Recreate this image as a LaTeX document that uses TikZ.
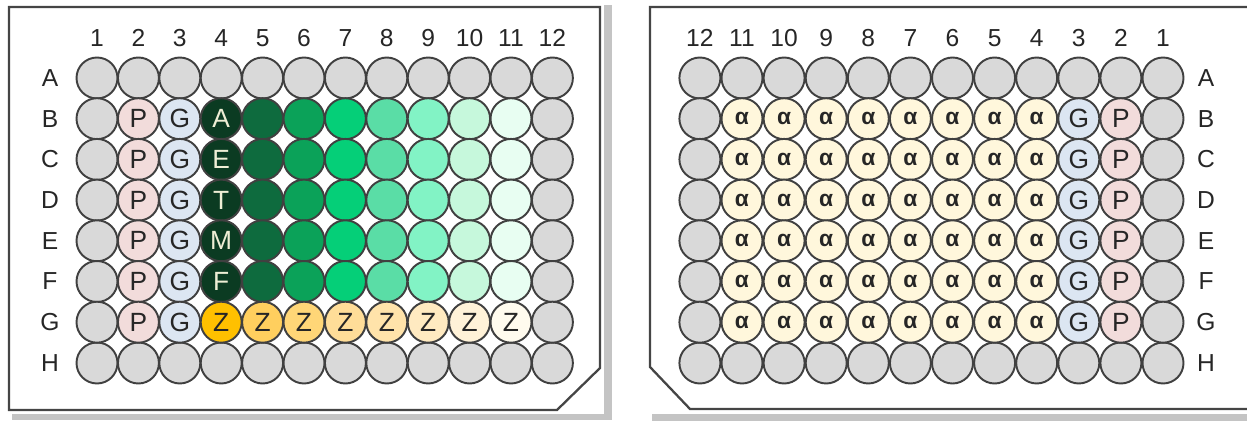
\documentclass[tikz,border=0pt]{standalone}
\usepackage{fontspec}
\setmainfont{Liberation Sans}
\usetikzlibrary{positioning}

\definecolor{wellgray}{HTML}{D9D9D9}
\definecolor{wellline}{HTML}{404040}
\definecolor{plateline}{HTML}{454545}
\definecolor{shadowgray}{HTML}{C4C4C4}
\definecolor{labelgray}{HTML}{262626}
\definecolor{pcol}{HTML}{F2DCDB}
\definecolor{gcol}{HTML}{DCE6F2}
\definecolor{acol}{HTML}{FFF7DC}
\definecolor{cream}{HTML}{EEEED5}
\definecolor{grn4}{HTML}{0B3B22}
\definecolor{grn5}{HTML}{0E6B3E}
\definecolor{grn6}{HTML}{0BA259}
\definecolor{grn7}{HTML}{05CF78}
\definecolor{grn8}{HTML}{5ADDA6}
\definecolor{grn9}{HTML}{82F3C5}
\definecolor{grn10}{HTML}{C6F8DC}
\definecolor{grn11}{HTML}{E8FEF2}
\definecolor{z4}{HTML}{FFC000}
\definecolor{z5}{HTML}{FFCF5E}
\definecolor{z6}{HTML}{FFD677}
\definecolor{z7}{HTML}{FFDD98}
\definecolor{z8}{HTML}{FFE3AA}
\definecolor{z9}{HTML}{FFEAC1}
\definecolor{z10}{HTML}{FFF2D8}
\definecolor{z11}{HTML}{FFFBEE}

\begin{document}
\begin{tikzpicture}[x=0.02cm, y=-0.02cm,
    well/.style={circle, draw=wellline, line width=1.1pt, minimum size=0.82cm, inner sep=0pt,
        fill=wellgray, text=labelgray, font=\fontsize{15}{15}\selectfont},
    alpha/.style={well, fill=acol, font=\fontsize{13}{13}\selectfont\bfseries},
    plate/.style={draw=plateline, line width=1.3pt, fill=white},
    lbl/.style={text=labelgray, font=\fontsize{14}{14}\selectfont}]
    \useasboundingbox (0,0) rectangle (1247,422);
    % shadows
    \fill[shadowgray] (604,5) rectangle (612,420);
    \fill[shadowgray] (12,414) rectangle (612,420);
    \fill[shadowgray] (652,414) rectangle (1247,421);
    % plates
    \draw[plate] (9,7) -- (600,7) -- (600,368) -- (557,410) -- (9,410) -- cycle;
    \draw[plate] (1247,7) -- (650,7) -- (650,367) -- (690,409) -- (1247,409);

    % LEFT PLATE
    \foreach \c in {1,...,12} {
        \node[lbl] (Lcol\c) at ({97+41.4*(\c-1)},38) {\c};
        \node[well] (LA\c) at ({97+41.4*(\c-1)},78) {};
        \node[well] (LH\c) at ({97+41.4*(\c-1)},363) {};
    }
    \node[lbl] (LrowA) at (50,78) {A};
    \node[lbl] (LrowH) at (50,363) {H};
    \foreach \r [count=\i from 1] in {B,C,D,E,F,G} {
        \node[lbl] (Lrow\r) at (50,{78+40.7*\i}) {\r};
        \node[well] (L\r1) at (97,{78+40.7*\i}) {};
        \node[well] (L\r12) at (552.4,{78+40.7*\i}) {};
        \node[well, fill=pcol] (L\r2) at (138.4,{78+40.7*\i}) {P};
        \node[well, fill=gcol] (L\r3) at (179.8,{78+40.7*\i}) {G};
    }
    % dilution series
    \foreach \r/\t [count=\i from 1] in {B/A,C/E,D/T,E/M,F/F} {
        \node[well, fill=grn4, text=cream] (L\r4) at (221.2,{78+40.7*\i}) {\t};
        \foreach \c in {5,...,11}
            \node[well, fill=grn\c] (L\r\c) at ({97+41.4*(\c-1)},{78+40.7*\i}) {};
    }
    \foreach \c in {4,...,11}
        \node[well, fill=z\c] (LG\c) at ({97+41.4*(\c-1)},322.2) {Z};

    % RIGHT PLATE
    \foreach \c in {1,...,12} {
        \node[lbl] (Rcol\c) at ({1163-42.1*(\c-1)},38) {\c};
        \node[well] (RA\c) at ({1163-42.1*(\c-1)},78) {};
        \node[well] (RH\c) at ({1163-42.1*(\c-1)},363) {};
    }
    \node[lbl] (RrowA) at (1206,78) {A};
    \node[lbl] (RrowH) at (1206,363) {H};
    \foreach \r [count=\i from 1] in {B,C,D,E,F,G} {
        \node[lbl] (Rrow\r) at (1206,{78+40.7*\i}) {\r};
        \node[well] (R\r1) at (1163,{78+40.7*\i}) {};
        \node[well] (R\r12) at (699.9,{78+40.7*\i}) {};
        \node[well, fill=pcol] (R\r2) at (1120.9,{78+40.7*\i}) {P};
        \node[well, fill=gcol] (R\r3) at (1078.8,{78+40.7*\i}) {G};
        \foreach \c in {4,...,11}
            \node[alpha] (R\r\c) at ({1163-42.1*(\c-1)},{78+40.7*\i}) {α};
    }
\end{tikzpicture}
\end{document}
